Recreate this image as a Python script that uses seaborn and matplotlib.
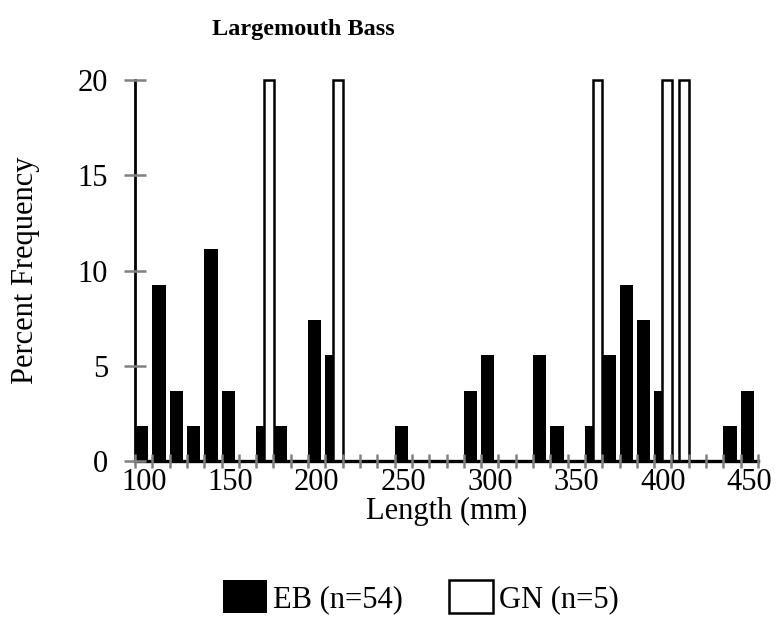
import numpy as np
import matplotlib
matplotlib.use("Agg")
import matplotlib.pyplot as plt
from matplotlib.patches import Patch
import seaborn as sns

# ── data ────────────────────────────────────────────────────
lengths = list(range(100, 460, 10))          # 10 mm length classes
eb_pct = [1.85, 9.26, 3.70, 1.85, 11.11, 3.70, 0, 1.85, 1.85, 0,
          7.41, 5.56, 0, 0, 0, 1.85, 0, 0, 0, 3.70,
          5.56, 0, 0, 5.56, 1.85, 0, 1.85, 5.56, 9.26, 7.41,
          3.70, 0, 0, 0, 1.85, 3.70]
gn_pct = [0, 0, 0, 0, 0, 0, 0, 20, 0, 0,
          0, 20, 0, 0, 0, 0, 0, 0, 0, 0,
          0, 0, 0, 0, 0, 0, 20, 0, 0, 0,
          20, 20, 0, 0, 0, 0]
tick_labels = ["100", "150", "200", "250", "300", "350", "400", "450"]
y_ticks = [0, 5, 10, 15, 20]
series_names = ["EB (n=54)", "GN (n=5)"]

# ── style ───────────────────────────────────────────────────
sns.set_style("white")
plt.rcParams["font.family"] = ["Liberation Serif", "DejaVu Serif"]
plt.rcParams["text.color"] = "black"
plt.rcParams["axes.labelcolor"] = "black"
plt.rcParams["xtick.color"] = "black"
plt.rcParams["ytick.color"] = "black"
GRAY = "#808080"

fig = plt.figure(figsize=(7.76, 6.2), dpi=100)
ax = fig.add_axes([135 / 776, 1 - 461 / 620, 623 / 776, 381 / 620])

x = np.array(lengths, dtype=float)
sns.barplot(x=x + 3.85, y=eb_pct, native_scale=True, width=0.77,
            color="black", saturation=1, linewidth=0, ax=ax, zorder=1)
sns.barplot(x=x + 7.3, y=gn_pct, native_scale=True, width=0.56,
            color="white", saturation=1, edgecolor="black", linewidth=1.8,
            ax=ax, zorder=1.2)
for p in ax.patches:
    p.set_clip_on(False)

# ── axes ────────────────────────────────────────────────────
ax.set_xlim(100, 460)
ax.set_ylim(0, 20)
ax.set_xticks(np.arange(100, 461, 10))
ax.set_xticklabels([])
ax.set_xticks([int(t) + 5 for t in tick_labels], minor=True)
ax.set_xticklabels(tick_labels, minor=True)
ax.set_yticks(y_ticks)
ax.set_yticklabels([str(v) for v in y_ticks])

ax.tick_params(axis="x", which="major", bottom=True, direction="inout",
               length=9.4, width=1.8, color=GRAY)
ax.tick_params(axis="x", which="minor", bottom=True, length=0, pad=5,
               labelsize=22, labelcolor="black")
ax.tick_params(axis="y", left=True, direction="inout", length=15.8,
               width=1.8, color=GRAY, pad=11.5, labelsize=22,
               labelcolor="black")
ax.set_axisbelow(False)

for side in ["top", "right"]:
    ax.spines[side].set_visible(False)
ax.spines["left"].set_linewidth(2.0)
ax.spines["left"].set_color("black")
ax.spines["bottom"].set_linewidth(2.4)
ax.spines["bottom"].set_color("black")

ax.set_xlabel("Length (mm)", fontsize=22, labelpad=0, color="black")
ax.set_ylabel("Percent Frequency", fontsize=22, labelpad=27, color="black")

fig.text(303 / 776, 1 - 29 / 620, "Largemouth Bass", ha="center",
         va="center", fontsize=17.5, fontweight="bold", color="black")

handles = [Patch(facecolor="black", edgecolor="black", linewidth=0),
           Patch(facecolor="white", edgecolor="black", linewidth=1.8)]
fig.legend(handles, series_names, loc="center", ncol=2, frameon=False,
           fontsize=22, handlelength=1.44, handleheight=1.28,
           handletextpad=0.2, columnspacing=1.5,
           bbox_to_anchor=(421 / 776, 1 - 597 / 620),
           bbox_transform=fig.transFigure, labelcolor="black")

plt.savefig("out.png", dpi=100)
plt.close()
